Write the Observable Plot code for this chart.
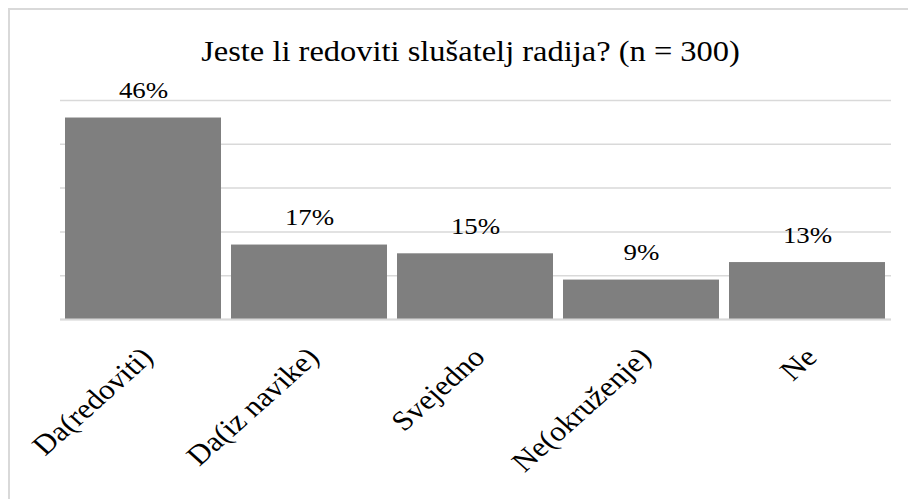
<!DOCTYPE html>
<html>
<head>
<meta charset="utf-8">
<script src="https://cdn.jsdelivr.net/npm/d3@7"></script>
<script src="https://cdn.jsdelivr.net/npm/@observablehq/plot@0.6"></script>
<style>
  html, body { margin: 0; padding: 0; background: #fff; }
  #wrap { position: relative; width: 908px; height: 499px; overflow: hidden; font-family: 'Liberation Serif'; }
  #frame { position: absolute; left: 8px; top: 8px; width: 1000px; height: 1000px; border-top: 2px solid #d9d9d9; border-left: 2px solid #d9d9d9; box-sizing: border-box; }
  #title { position: absolute; left: 0; width: 942px; top: 37px; text-align: center; font-family: 'Liberation Serif'; font-size: 29px; color: #000; line-height: 1; }
  #title span { display: inline-block; transform: scaleX(1.12); transform-origin: center; }
  #chart { position: absolute; left: 0; top: 0; }
</style>
</head>
<body>
<div id="wrap">
  <div id="frame"></div>
  <div id="title"><span>Jeste li redoviti slušatelj radija? (n = 300)</span></div>
  <div id="chart"></div>
</div>
<script>
const categories = ["Da(redoviti)", "Da(iz navike)", "Svejedno", "Ne(okruženje)", "Ne"];
const values = [46, 17, 15, 9, 13];
const valueLabels = ["46%", "17%", "15%", "9%", "13%"];
const yTicks = [0, 10, 20, 30, 40, 50];

const data = categories.map((c, i) => ({category: c, value: values[i], label: valueLabels[i]}));
const STRETCH = 1.12;

const chart = Plot.plot({
  width: 908,
  height: 499,
  marginTop: 100,
  marginBottom: 180,
  marginLeft: 60,
  marginRight: 17,
  style: {fontFamily: "'Liberation Serif'", background: "transparent", color: "#000"},
  x: {domain: categories, paddingInner: 0.06, paddingOuter: 0.03, label: null, axis: null},
  y: {domain: [0, 50], label: null, axis: null},
  marks: [
    Plot.gridY(yTicks, {stroke: "#d9d9d9", strokeOpacity: 1, strokeWidth: 1.5}),
    Plot.barY(data, {x: "category", y: "value", fill: "#7f7f7f"}),
    Plot.ruleY([0], {stroke: "#d9d9d9", strokeWidth: 2}),
    Plot.text(data, {x: "category", y: "value", text: "label", lineAnchor: "bottom", dy: -20, fontSize: 24, fill: "#000", fontFamily: "'Liberation Serif'"}),
    Plot.axisX({tickRotate: -45, tickSize: 0, tickPadding: 0, dx: 4, dy: 33, fontSize: 28, fill: "#000", fontFamily: "'Liberation Serif'", label: null}),
  ]
});
document.getElementById("chart").appendChild(chart);

// horizontal stretch of the texts, as in the reference
d3.select(chart).selectAll("g[aria-label='text'] text").each(function() {
  const len = this.getComputedTextLength();
  this.setAttribute("textLength", len * STRETCH);
  this.setAttribute("lengthAdjust", "spacingAndGlyphs");
});
d3.select(chart).selectAll("g[aria-label='x-axis tick label'] text").each(function() {
  const t = this.getAttribute("transform") || "";
  this.setAttribute("transform", t.replace("rotate(", `scale(${STRETCH},1) rotate(`));
});
</script>
</body>
</html>
